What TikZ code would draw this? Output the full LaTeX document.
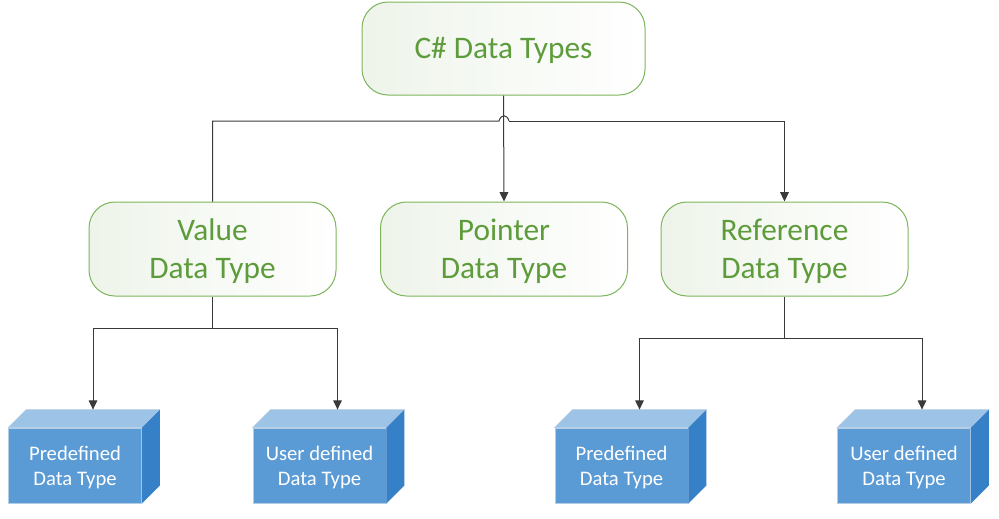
\documentclass[tikz,border=0pt]{standalone}
\usepackage{fontspec}
\setmainfont{Carlito}
\usetikzlibrary{arrows.meta,calc}
\definecolor{gtext}{HTML}{5E9C3B}
\definecolor{gborder}{HTML}{7DB55C}
\definecolor{gshade}{HTML}{EEF4EA}
\definecolor{cfront}{HTML}{5B9BD5}
\definecolor{ctop}{HTML}{9DC3E6}
\definecolor{cside}{HTML}{3580C6}
\definecolor{cedge}{HTML}{B4CDE6}
\definecolor{lineC}{HTML}{3A3A3A}
\newcommand{\twolines}[2]{\raisebox{-2.2pt}[\height][\depth]{\begin{tabular}{@{}c@{}}#1\\#2\end{tabular}}}
\tikzset{
  gbox/.style={draw=gborder, line width=0.75pt, rounded corners=19.5pt,
    left color=gshade, right color=white,
    minimum width=185.25pt, minimum height=70.5pt, align=center,
    text=gtext, font=\fontsize{23.5}{28}\selectfont, inner sep=0pt},
  cfrontbox/.style={fill=cfront, draw=cedge, line width=0.6pt,
    minimum width=99.75pt, minimum height=56.25pt, inner sep=0pt},
  ctext/.style={align=center, text=white, font=\fontsize{15.5}{19}\selectfont, inner sep=0pt},
  conn/.style={draw=lineC, line width=0.75pt},
  arr/.style={conn, -{Triangle[length=7pt,width=6.5pt]}},
}
\newcommand{\mycube}[1]{%
  \fill[ctop, draw=cedge, line width=0.4pt] (#1.north west) -- ($(#1.north west)+(18,-18)$) -- ($(#1.north east)+(18,-18)$) -- (#1.north east) -- cycle;
  \fill[cside] (#1.north east) -- ($(#1.north east)+(18,-18)$) -- ($(#1.south east)+(18,-18)$) -- (#1.south east) -- cycle;
}
\begin{document}
\begin{tikzpicture}[x=0.75pt,y=-0.75pt]
\useasboundingbox (0,0) rectangle (999,518);
\fill[white] (0,0) rectangle (999,518);

\node[gbox, minimum width=212.25pt, minimum height=69.75pt] (top) at (503.5,48.5) {\raisebox{-1.5pt}[\height][\depth]{C\# Data Types}};
\node[gbox] (value) at (212.5,249) {\twolines{Value}{Data Type}};
\node[gbox] (pointer) at (504,249) {\twolines{Pointer}{Data Type}};
\node[gbox] (ref) at (784.5,249) {\twolines{Reference}{Data Type}};

\node[cfrontbox] (c1) at (75,465.5) {};
\node[cfrontbox] (c2) at (319.5,465.5) {};
\node[cfrontbox] (c3) at (621.5,465.5) {};
\node[cfrontbox] (c4) at (904,465.5) {};
\mycube{c1}\mycube{c2}\mycube{c3}\mycube{c4}
\node[ctext] (l1) at ($(c1)+(0,2)$) {Predefined\\Data Type};
\node[ctext] (l2) at ($(c2)+(0,2)$) {User defined\\Data Type};
\node[ctext] (l3) at ($(c3)+(0,2)$) {Predefined\\Data Type};
\node[ctext] (l4) at ($(c4)+(0,2)$) {User defined\\Data Type};

\coordinate (t1) at ($(c1.north)+(18,-18)$);
\coordinate (t2) at ($(c2.north)+(18,-18)$);
\coordinate (t3) at ($(c3.north)+(18,-18)$);
\coordinate (t4) at ($(c4.north)+(18,-18)$);

\coordinate (hopL) at (499,121);
\coordinate (hopR) at (509,121);
\coordinate (vj) at (212.5,328);
\coordinate (rj) at (784.5,338);

% top level
\draw[arr] (top.south) -- (pointer.north);
\draw[conn] (value.north) -- (value.north |- hopL) -- (hopL)
   .. controls (501,114) and (507,114) .. (hopR);
\draw[arr] (hopR) -- (ref.north |- hopR) -- (ref.north);

% value children
\draw[conn] (value.south) -- (vj);
\draw[arr] (vj) -| (t1);
\draw[arr] (vj) -| (t2);

% reference children
\draw[conn] (ref.south) -- (rj);
\draw[arr] (rj) -| (t3);
\draw[arr] (rj) -| (t4);
\end{tikzpicture}
\end{document}
